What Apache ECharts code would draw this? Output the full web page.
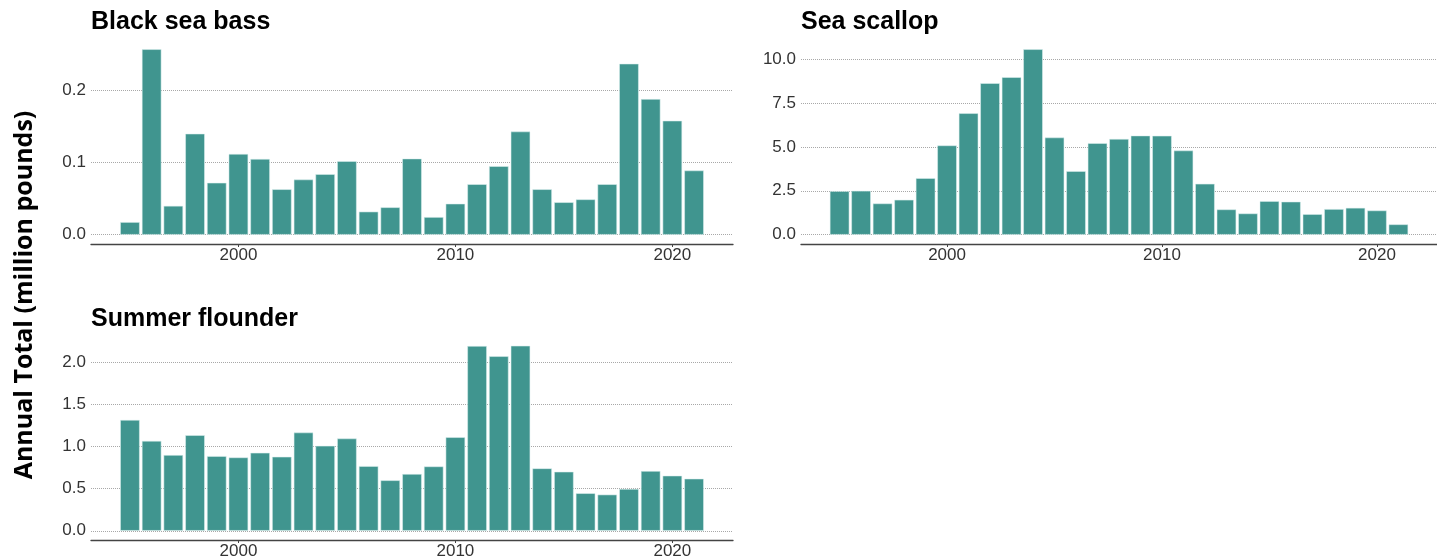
<!DOCTYPE html>
<html>
<head>
<meta charset="utf-8">
<script src="https://cdn.jsdelivr.net/npm/echarts@6/dist/echarts.min.js"></script>
<style>
  html, body { margin: 0; padding: 0; background: #ffffff; }
  #chart { width: 1437px; height: 560px; }
</style>
</head>
<body>
<div id="chart"></div>
<script>
// Annual totals by species, 1995-2021 (million pounds)
const years = [1995, 1996, 1997, 1998, 1999, 2000, 2001, 2002, 2003, 2004, 2005, 2006, 2007, 2008,
               2009, 2010, 2011, 2012, 2013, 2014, 2015, 2016, 2017, 2018, 2019, 2020, 2021];

const blackSeaBass = [0.0175, 0.257, 0.040, 0.140, 0.072, 0.112, 0.105, 0.063, 0.0765, 0.084, 0.102, 0.032, 0.038, 0.1055,
                      0.0245, 0.043, 0.070, 0.095, 0.143, 0.063, 0.045, 0.049, 0.070, 0.237, 0.188, 0.158, 0.089];

const seaScallop = [2.48, 2.50, 1.78, 1.99, 3.22, 5.08, 6.91, 8.62, 8.96, 10.55, 5.53, 3.62, 5.21, 5.45,
                    5.64, 5.63, 4.79, 2.90, 1.44, 1.21, 1.91, 1.88, 1.17, 1.46, 1.53, 1.38, 0.59];

const summerFlounder = [1.318, 1.069, 0.90, 1.136, 0.888, 0.872, 0.927, 0.880, 1.168, 1.01, 1.097, 0.769, 0.60, 0.675,
                        0.765, 1.112, 2.197, 2.075, 2.20, 0.742, 0.702, 0.446, 0.430, 0.497, 0.710, 0.655, 0.619];

const yearTicks = [2000, 2010, 2020];
const bassTicks = [0, 0.1, 0.2];
const scallopTicks = [0, 2.5, 5, 7.5, 10];
const flounderTicks = [0, 0.5, 1, 1.5, 2];

const panelTitles = ['Black sea bass', 'Sea scallop', 'Summer flounder'];
const yAxisTitle = 'Annual Total (million pounds)';

// Panel layout (pixels)
const panels = [
  { values: blackSeaBass,   ticks: bassTicks,     grid: { left: 91,  top: 40,    width: 642, height: 204 },   title: { left: 91,  top: 10 } },
  { values: seaScallop,     ticks: scallopTicks,  grid: { left: 801, top: 40,    width: 642, height: 204 },   title: { left: 801, top: 10 } },
  { values: summerFlounder, ticks: flounderTicks, grid: { left: 91,  top: 336.5, width: 642, height: 204.5 }, title: { left: 91,  top: 307 } }
];

const BAR_COLOR = '#40958f';
const LABEL_COLOR = '#333333';
const LABEL_FONT = '"Liberation Sans", Arial, sans-serif';

// Continuous x range: bars of width 0.9 plus 5% padding on each side
const xLo = years[0] - 0.45;
const xHi = years[years.length - 1] + 0.45;
const xPad = (xHi - xLo) * 0.05;
const xMin = xLo - xPad;
const xMax = xHi + xPad;

const grids = [], xAxes = [], yAxes = [], series = [], titles = [];

panels.forEach((p, i) => {
  const vMax = Math.max(...p.values);
  const yMin = -vMax * 0.05;
  const yMax = vMax * 1.05;
  const barPx = p.grid.width / (xMax - xMin) * 0.9;

  grids.push(Object.assign({ containLabel: false }, p.grid));

  titles.push({
    text: panelTitles[i],
    left: p.title.left,
    top: p.title.top,
    padding: 0,
    textStyle: { fontFamily: LABEL_FONT, fontWeight: 'bold', fontSize: 25, color: '#000000' }
  });

  xAxes.push({
    type: 'value',
    gridIndex: i,
    min: xMin,
    max: xMax,
    axisLine: { show: true, onZero: false, lineStyle: { color: '#444444', width: 1.3 } },
    axisTick: { show: true, customValues: yearTicks, length: 3, lineStyle: { color: '#444444', width: 1 } },
    axisLabel: {
      customValues: yearTicks,
      fontFamily: LABEL_FONT, fontSize: 17, color: LABEL_COLOR, margin: 3,
      formatter: v => String(v)
    },
    splitLine: { show: false }
  });

  yAxes.push({
    type: 'value',
    gridIndex: i,
    min: yMin,
    max: yMax,
    axisLine: { show: false },
    axisTick: { show: false, customValues: p.ticks },
    axisLabel: {
      customValues: p.ticks,
      fontFamily: LABEL_FONT, fontSize: 17, color: LABEL_COLOR, margin: 5,
      formatter: v => Number(v).toFixed(1)
    },
    splitLine: { show: true, lineStyle: { type: [1, 1], color: '#a8a8a8', width: 1 } }
  });

  series.push({
    type: 'bar',
    xAxisIndex: i,
    yAxisIndex: i,
    barWidth: barPx,
    data: years.map((y, k) => [y, p.values[k]]),
    itemStyle: { color: BAR_COLOR, borderColor: 'rgba(220,240,238,0.9)', borderWidth: 0.6 },
    silent: true
  });
});

const chart = echarts.init(document.getElementById('chart'), null, { renderer: 'canvas' });
chart.setOption({
  animation: false,
  backgroundColor: '#ffffff',
  title: titles,
  grid: grids,
  xAxis: xAxes,
  yAxis: yAxes,
  series: series,
  graphic: [{
    type: 'text',
    x: 25,
    y: 295,
    rotation: Math.PI / 2,
    style: {
      text: yAxisTitle,
      fill: '#000000',
      font: 'bold 25px "Open Sans", sans-serif',
      textAlign: 'center',
      textVerticalAlign: 'middle'
    }
  }]
});
</script>
</body>
</html>
